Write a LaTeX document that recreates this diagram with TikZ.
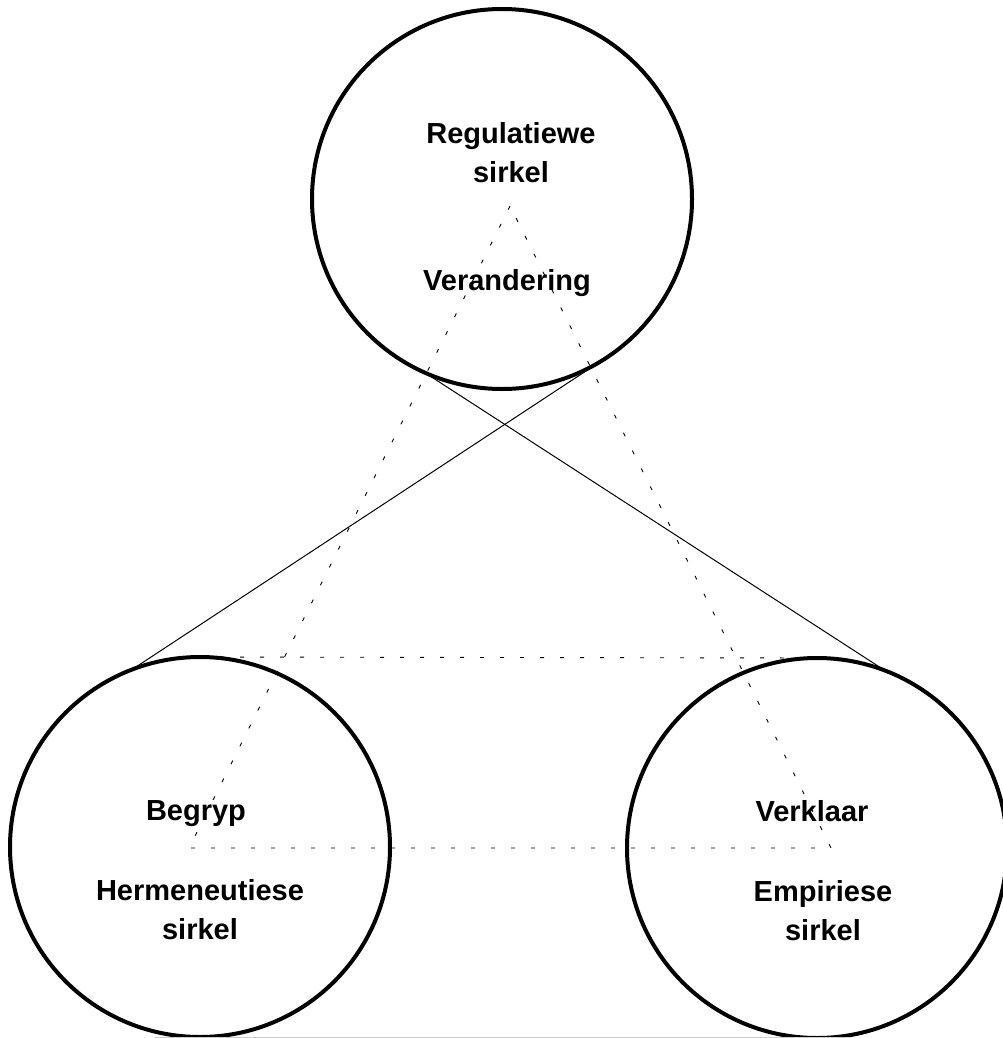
\documentclass[tikz,border=0pt]{standalone}
\usepackage{fontspec}
\setmainfont{Liberation Sans}
\begin{document}
\begin{tikzpicture}[x=1pt,y=-1pt,
  ring/.style={draw,circle,line width=4pt,minimum size=380pt,inner sep=0pt,outer sep=0pt},
  lbl/.style={font=\bfseries\fontsize{29}{39}\selectfont,align=center,inner sep=0pt},
  dotline/.style={line width=0.9pt,dash pattern=on 4pt off 16pt},
  solidline/.style={line width=1pt}]
\useasboundingbox (0,0) rectangle (1003,1038);
% dotted triangle
\coordinate (T) at (510,206);
\coordinate (L) at (189,848);
\coordinate (R) at (831,848);
\draw[dotline] (T) -- (L) -- (R) -- cycle;
% circles
\node[ring] (top) at (502,199) {};
\node[ring] (left) at (200,847) {};
\node[ring] (right) at (817,848) {};
\draw[dotline] (left.north) -- (right.north);
% solid crossing lines
\draw[solidline] (top.-114) -- (right.69);
\draw[solidline] (top.-59) -- (left.111);
% faint bottom line
\coordinate (g1) at (155,1037);
\coordinate (g2) at (850,1037);
\draw[gray!40,line width=1pt] (g1) -- (g2);
% labels
\node[lbl] (reg) at (511,152.5) {Regulatiewe\\sirkel};
\node[lbl,anchor=base] (ver) at (507,290) {Verandering};
\node[lbl,anchor=base] (beg) at (196,820) {Begryp};
\node[lbl] (her) at (200,909.5) {Hermeneutiese\\sirkel};
\node[lbl,anchor=base] (verk) at (812,821) {Verklaar};
\node[lbl] (emp) at (823,910.5) {Empiriese\\sirkel};
\end{tikzpicture}
\end{document}
